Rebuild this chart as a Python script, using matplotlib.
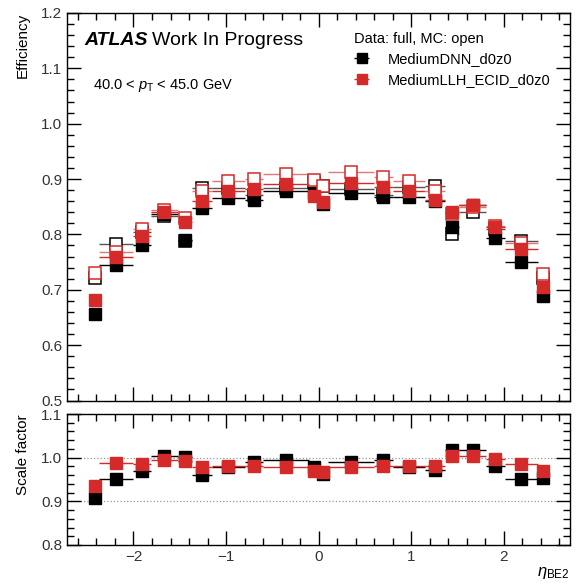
import numpy as np
import matplotlib.pyplot as plt
from matplotlib.ticker import MultipleLocator

plt.rcParams['font.family'] = ['Liberation Sans', 'DejaVu Sans']
plt.rcParams['mathtext.fontset'] = 'custom'
plt.rcParams['mathtext.rm'] = 'Liberation Sans'
plt.rcParams['mathtext.it'] = 'Liberation Sans:italic'

# eta binning
eta_edges = np.array([-2.47, -2.37, -2.01, -1.81, -1.52, -1.37, -1.15, -0.8, -0.6, -0.1, 0.0,
                      0.1, 0.6, 0.8, 1.15, 1.37, 1.52, 1.81, 2.01, 2.37, 2.47])

# MediumDNN_d0z0
dnn_data = np.array([0.656, 0.744, 0.780, 0.837, 0.790, 0.848, 0.865, 0.862, 0.878, 0.875,
                     0.855, 0.874, 0.867, 0.867, 0.861, 0.814, 0.854, 0.793, 0.751, 0.688])
dnn_mc = np.array([0.722, 0.783, 0.805, 0.834, 0.789, 0.883, 0.883, 0.871, 0.883, 0.895,
                   0.888, 0.882, 0.872, 0.885, 0.887, 0.800, 0.840, 0.809, 0.789, 0.721])

# MediumLLH_ECID_d0z0
llh_data = np.array([0.682, 0.760, 0.798, 0.840, 0.822, 0.860, 0.879, 0.882, 0.891, 0.870,
                     0.858, 0.892, 0.885, 0.879, 0.862, 0.840, 0.853, 0.814, 0.774, 0.705])
llh_mc = np.array([0.730, 0.769, 0.810, 0.845, 0.829, 0.878, 0.897, 0.900, 0.910, 0.898,
                   0.887, 0.912, 0.903, 0.897, 0.878, 0.837, 0.850, 0.816, 0.785, 0.728])

eta = 0.5 * (eta_edges[1:] + eta_edges[:-1])
eta_err = 0.5 * (eta_edges[1:] - eta_edges[:-1])

RED = '#d42a2a'
MS = 8.6

fig = plt.figure(figsize=(5.77, 5.87), dpi=100)
ax = fig.add_axes([0.1166, 0.3177, 0.8713, 0.6602])
rax = fig.add_axes([0.1166, 0.0716, 0.8713, 0.2231], sharex=ax)

# efficiencies: MC open, data filled
ax.errorbar(eta, dnn_mc, xerr=eta_err, fmt='s', ms=MS, mfc='white', mec='black', mew=1.1,
            color='#555555', elinewidth=1.0, zorder=2)
h_dnn = ax.errorbar(eta, dnn_data, xerr=eta_err, fmt='s', ms=MS, color='black',
                    elinewidth=1.0, zorder=3)
ax.errorbar(eta, llh_mc, xerr=eta_err, fmt='s', ms=MS, mfc='white', mec=RED, mew=1.1,
            color='#e07878', elinewidth=1.0, zorder=4)
h_llh = ax.errorbar(eta, llh_data, xerr=eta_err, fmt='s', ms=MS, color=RED,
                    elinewidth=1.0, zorder=5)

# scale factors data / MC
rax.errorbar(eta, dnn_data / dnn_mc, xerr=eta_err, fmt='s', ms=MS, color='black',
             elinewidth=1.0, zorder=3)
rax.errorbar(eta, llh_data / llh_mc, xerr=eta_err, fmt='s', ms=MS, color=RED,
             elinewidth=1.0, zorder=4)
for yl in (0.9, 1.0, 1.1):
    rax.axhline(yl, color='#999999', ls=':', lw=0.9, zorder=1)

ax.set_xlim(-2.715, 2.715)
ax.set_ylim(0.5, 1.2)
rax.set_ylim(0.8, 1.1)

for a in (ax, rax):
    a.xaxis.set_major_locator(MultipleLocator(1))
    a.xaxis.set_minor_locator(MultipleLocator(0.2))
    a.yaxis.set_major_locator(MultipleLocator(0.1))
    a.yaxis.set_minor_locator(MultipleLocator(0.02))
    a.tick_params(which='both', direction='in', top=True, right=True, labelsize=11,
                  labelcolor='#333333', width=1.0)
    a.tick_params(which='major', length=10)
    a.tick_params(which='minor', length=5)
    for s in a.spines.values():
        s.set_linewidth(1.0)
ax.tick_params(axis='x', labelbottom=False)
ax.yaxis.set_major_formatter(plt.FormatStrFormatter('%.1f'))
rax.yaxis.set_major_formatter(plt.FormatStrFormatter('%.1f'))
rax.xaxis.set_major_formatter(plt.FuncFormatter(lambda v, p: f'{v:.0f}'.replace('-', '\u2212')))

ax.set_ylabel('Efficiency', loc='top', fontsize=11, labelpad=8)
rax.set_ylabel('Scale factor', loc='top', fontsize=11, labelpad=8)
rax.set_xlabel(r'$\eta_{\mathrm{BE2}}$', loc='right', fontsize=12, labelpad=1)

ax.text(0.035, 0.930, 'ATLAS', transform=ax.transAxes, fontsize=14, fontweight='bold',
        fontstyle='italic', va='center')
ax.text(0.168, 0.930, 'Work In Progress', transform=ax.transAxes, fontsize=14, va='center')
ax.text(0.051, 0.812, r'40.0 < $p_{\mathrm{T}}$ < 45.0 GeV', transform=ax.transAxes,
        fontsize=10.5, va='center')

leg = ax.legend([h_dnn, h_llh], ['MediumDNN_d0z0', 'MediumLLH_ECID_d0z0'],
                title='Data: full, MC: open', loc='upper left', bbox_to_anchor=(0.545, 0.985),
                frameon=False, fontsize=10.5, title_fontsize=10.5, handlelength=1.0,
                handletextpad=1.3, labelspacing=0.45, markerscale=0.85)
leg._legend_box.align = 'left'

fig.savefig('out.png', dpi=100)
